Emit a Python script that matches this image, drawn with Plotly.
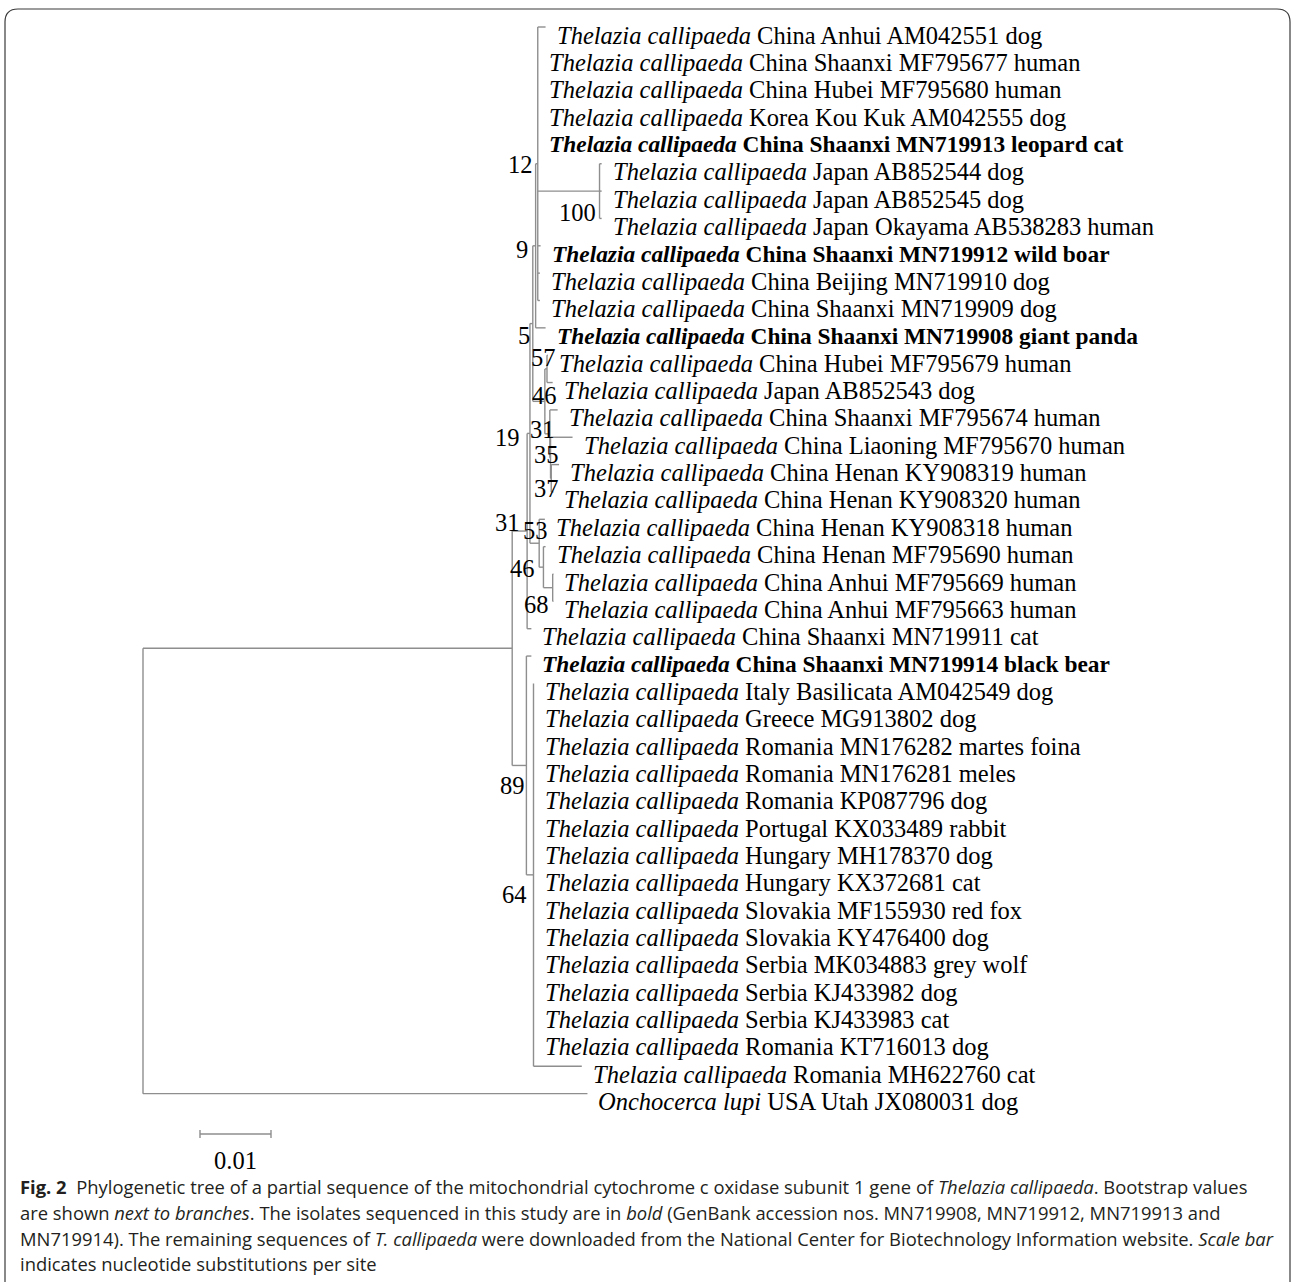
import plotly.graph_objects as go

# ---------------- data ----------------
LEAF_TAXON = ["Thelazia callipaeda"] * 39 + ["Onchocerca lupi"]
LEAF_INFO = [
    "China Anhui AM042551 dog",
    "China Shaanxi MF795677 human",
    "China Hubei MF795680 human",
    "Korea Kou Kuk AM042555 dog",
    "China Shaanxi MN719913 leopard cat",
    "Japan AB852544 dog",
    "Japan AB852545 dog",
    "Japan Okayama AB538283 human",
    "China Shaanxi MN719912 wild boar",
    "China Beijing MN719910 dog",
    "China Shaanxi MN719909 dog",
    "China Shaanxi MN719908 giant panda",
    "China Hubei MF795679 human",
    "Japan AB852543 dog",
    "China Shaanxi MF795674 human",
    "China Liaoning MF795670 human",
    "China Henan KY908319 human",
    "China Henan KY908320 human",
    "China Henan KY908318 human",
    "China Henan MF795690 human",
    "China Anhui MF795669 human",
    "China Anhui MF795663 human",
    "China Shaanxi MN719911 cat",
    "China Shaanxi MN719914 black bear",
    "Italy Basilicata AM042549 dog",
    "Greece MG913802 dog",
    "Romania MN176282 martes foina",
    "Romania MN176281 meles",
    "Romania KP087796 dog",
    "Portugal KX033489 rabbit",
    "Hungary MH178370 dog",
    "Hungary KX372681 cat",
    "Slovakia MF155930 red fox",
    "Slovakia KY476400 dog",
    "Serbia MK034883 grey wolf",
    "Serbia KJ433982 dog",
    "Serbia KJ433983 cat",
    "Romania KT716013 dog",
    "Romania MH622760 cat",
    "USA Utah JX080031 dog",
]
BOLD_LEAVES = [4, 8, 11, 23]

# (child, parent, branch length in substitutions per site)
EDGES = [
    ("IN", "ROOT", 0.0520),
    ("L39", "ROOT", 0.0626),
    ("N31", "IN", 0.0021),
    ("N89", "IN", 0.0020),
    ("N19", "N31", 0.0004),
    ("L22", "N31", 0.0006),
    ("N5", "N19", 0.0004),
    ("N53", "N19", 0.0013),
    ("N9", "N5", 0.0004),
    ("N46a", "N5", 0.0017),
    ("N12", "N9", 0.0003),
    ("L11", "N9", 0.0014),
    ("L0", "N12", 0.0011),
    ("L1", "N12", 0.0),
    ("L2", "N12", 0.0),
    ("L3", "N12", 0.0),
    ("L4", "N12", 0.0),
    ("N100", "N12", 0.0087),
    ("L8", "N12", 0.0004),
    ("L9", "N12", 0.0003),
    ("L10", "N12", 0.0003),
    ("L5", "N100", 0.0003),
    ("L6", "N100", 0.0003),
    ("L7", "N100", 0.0003),
    ("N57", "N46a", 0.0003),
    ("N31i", "N46a", 0.0007),
    ("L12", "N57", 0.0001),
    ("L13", "N57", 0.0008),
    ("L14", "N31i", 0.0011),
    ("N35", "N31i", 0.0001),
    ("L15", "N35", 0.0031),
    ("N37", "N35", 0.0001),
    ("L16", "N37", 0.0011),
    ("L17", "N37", 0.0003),
    ("L18", "N53", 0.0008),
    ("N46b", "N53", 0.0006),
    ("L19", "N46b", 0.0003),
    ("N68", "N46b", 0.0013),
    ("L20", "N68", 0.0001),
    ("L21", "N68", 0.0001),
    ("L23", "N89", 0.0007),
    ("N64", "N89", 0.0010),
    ("L24", "N64", 0.0),
    ("L25", "N64", 0.0),
    ("L26", "N64", 0.0),
    ("L27", "N64", 0.0),
    ("L28", "N64", 0.0),
    ("L29", "N64", 0.0),
    ("L30", "N64", 0.0),
    ("L31", "N64", 0.0),
    ("L32", "N64", 0.0),
    ("L33", "N64", 0.0),
    ("L34", "N64", 0.0),
    ("L35", "N64", 0.0),
    ("L36", "N64", 0.0),
    ("L37", "N64", 0.0),
    ("L38", "N64", 0.0068),
]

BOOTSTRAP = {
    "N12": 12, "N100": 100, "N9": 9, "N5": 5, "N57": 57, "N46a": 46,
    "N31i": 31, "N35": 35, "N37": 37, "N19": 19, "N53": 53, "N46b": 46,
    "N68": 68, "N31": 31, "N89": 89, "N64": 64,
}
SCALE_BAR = 0.01

CAPTION = [
    "<b>Fig. 2</b>\u00a0\u00a0Phylogenetic tree of a partial sequence of the mitochondrial cytochrome c oxidase subunit 1 gene of <i>Thelazia callipaeda</i>. Bootstrap values",
    "are shown <i>next to branches</i>. The isolates sequenced in this study are in <i>bold</i> (GenBank accession nos. MN719908, MN719912, MN719913 and",
    "MN719914). The remaining sequences of <i>T. callipaeda</i> were downloaded from the National Center for Biotechnology Information website. <i>Scale bar</i>",
    "indicates nucleotide substitutions per site",
]

# ---------------- layout / style ----------------
W, H = 1295, 1282
ROOT_PX = 143          # pixel x of the root
PX_PER_UNIT = 7100     # pixels per substitution/site
ROW0_PX = 27           # pixel y of first leaf branch
ROW_PX = 27.35         # pixel spacing between leaves
LINE_COLOR = "#8e8e8e"
TREE_FONT = "Liberation Serif"
TREE_SIZE = 24.5
BOLD_SIZE = 23.4
CAP_FONT = "Open Sans"
CAP_SIZE = 18.4
# label nudges in px (dx, dy) relative to node, mimicking MEGA placement
LABEL_NUDGE = {
    "N12": (-3, 1), "N100": (-2, 21), "N9": (-6, 4), "N5": (-1, 12),
    "N57": (11, -11), "N46a": (14, -6), "N31i": (7, -4), "N35": (10, -3),
    "N37": (10, 10), "N19": (-8, 4), "N53": (11, -13), "N46b": (-6, 1),
    "N68": (-2, 17), "N31": (-5, -9), "N89": (1, 20), "N64": (-5, 20),
}

# ---------------- tree geometry ----------------
xpos = {"ROOT": 0.0}
children = {}
for child, par, bl in EDGES:
    children.setdefault(par, []).append(child)
    xpos[child] = xpos[par] + bl

ypos = {}


def get_y(n):
    if n in ypos:
        return ypos[n]
    if n.startswith("L"):
        ypos[n] = float(int(n[1:]))
    else:
        ys = [get_y(c) for c in children[n]]
        ypos[n] = (min(ys) + max(ys)) / 2.0
    return ypos[n]


get_y("ROOT")

lx, ly = [], []
for child, par, bl in EDGES:
    lx += [xpos[par], xpos[child], None]
    ly += [ypos[child], ypos[child], None]
for n, ch in children.items():
    ys = [ypos[c] for c in ch]
    lx += [xpos[n], xpos[n], None]
    ly += [min(ys), max(ys), None]

fig = go.Figure()
fig.add_trace(go.Scatter(x=lx, y=ly, mode="lines",
                         line=dict(color=LINE_COLOR, width=1.4),
                         hoverinfo="skip", showlegend=False))

annotations = []
for i, (tax, info) in enumerate(zip(LEAF_TAXON, LEAF_INFO)):
    txt = f"<i>{tax}</i> {info}"
    size = TREE_SIZE
    if i in BOLD_LEAVES:
        txt = f"<b>{txt}</b>"
        size = BOLD_SIZE
    annotations.append(dict(
        x=xpos[f"L{i}"], y=i, xref="x", yref="y", text=txt, showarrow=False,
        xanchor="left", yanchor="middle", xshift=9, yshift=-8,
        font=dict(family=TREE_FONT, size=size, color="black")))

for n, bs in BOOTSTRAP.items():
    dx, dy = LABEL_NUDGE.get(n, (0, 0))
    annotations.append(dict(
        x=xpos[n], y=ypos[n], xref="x", yref="y", text=str(bs), showarrow=False,
        xanchor="right", yanchor="middle", xshift=dx, yshift=-dy,
        font=dict(family=TREE_FONT, size=TREE_SIZE, color="black")))

# scale bar
sb_x0 = (200 - ROOT_PX) / PX_PER_UNIT
sb_y = (1134 - ROW0_PX) / ROW_PX
tick = 4 / ROW_PX
fig.add_trace(go.Scatter(
    x=[sb_x0, sb_x0 + SCALE_BAR, None, sb_x0, sb_x0, None, sb_x0 + SCALE_BAR, sb_x0 + SCALE_BAR],
    y=[sb_y, sb_y, None, sb_y - tick, sb_y + tick, None, sb_y - tick, sb_y + tick],
    mode="lines", line=dict(color=LINE_COLOR, width=1.4), hoverinfo="skip", showlegend=False))
annotations.append(dict(
    x=sb_x0 + SCALE_BAR / 2, y=sb_y, xref="x", yref="y", text=f"{SCALE_BAR}",
    showarrow=False, xanchor="center", yanchor="middle", yshift=-26,
    font=dict(family=TREE_FONT, size=TREE_SIZE, color="black")))

# caption
cap_y = [1186, 1212, 1238, 1263]
for line, py in zip(CAPTION, cap_y):
    annotations.append(dict(
        x=18 / W, y=1 - py / H, xref="paper", yref="paper", text=line, showarrow=False,
        xanchor="left", yanchor="middle",
        font=dict(family=CAP_FONT, size=CAP_SIZE, color="#231f20")))


# rounded frame
def P(px, py):
    return f"{px / W:.5f},{1 - py / H:.5f}"


frame = (f"M {P(5, 1282)} L {P(5, 22)} Q {P(5, 9)} {P(18, 9)} "
         f"L {P(1277, 9)} Q {P(1290, 9)} {P(1290, 22)} L {P(1290, 1282)}")

fig.update_layout(
    width=W, height=H, autosize=False,
    margin=dict(l=0, r=0, t=0, b=0),
    paper_bgcolor="white", plot_bgcolor="white",
    xaxis=dict(range=[-ROOT_PX / PX_PER_UNIT, (W - ROOT_PX) / PX_PER_UNIT],
               visible=False, showgrid=False, zeroline=False, fixedrange=True),
    yaxis=dict(range=[(H - ROW0_PX) / ROW_PX, -ROW0_PX / ROW_PX],
               visible=False, showgrid=False, zeroline=False, fixedrange=True),
    annotations=annotations,
    shapes=[dict(type="path", path=frame, xref="paper", yref="paper",
                 line=dict(color="#3a3a3a", width=1.2))],
    showlegend=False,
)

fig.write_html("out.html", post_script="document.body.style.margin='0px';",
               config={"displayModeBar": False})
